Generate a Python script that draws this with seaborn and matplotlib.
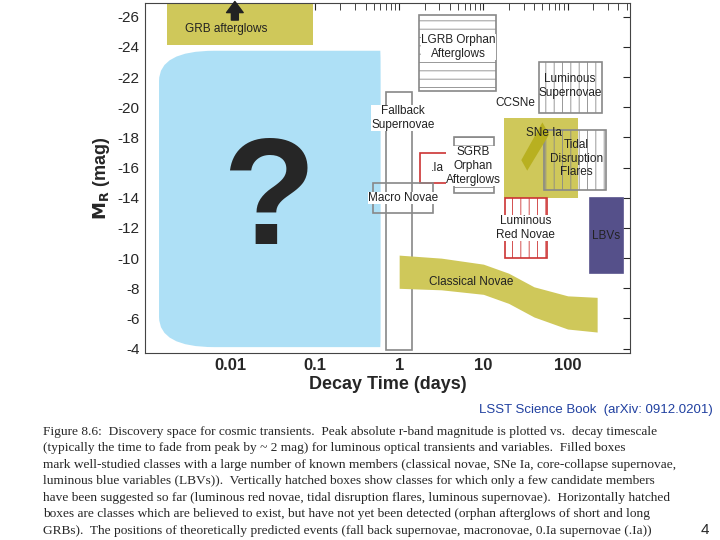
import matplotlib
matplotlib.use("Agg")
import matplotlib.pyplot as plt
import seaborn as sns
import numpy as np
from matplotlib.patches import Rectangle, FancyBboxPatch, Polygon

sns.set_style("white")
plt.rcParams['font.family'] = ['Liberation Sans', 'DejaVu Sans']
plt.rcParams['hatch.linewidth'] = 0.6
plt.rcParams['hatch.color'] = '#888888'

names = ["GRB afterglows", "LGRB Orphan\nAfterglows", "Fallback\nSupernovae", ".Ia",
         "SGRB\nOrphan\nAfterglows", "Macro Novae", "CCSNe", "Tidal\nDisruption\nFlares",
         "Luminous\nSupernovae", "Luminous\nRed Novae", "LBVs"]
lx0 = [-2.75, 0.24, -0.16, 0.25, 0.65, -0.31, 1.25, 1.72, 1.66, 1.26, 2.26]
lx1 = [-1.02, 1.15, 0.15, 0.64, 1.12, 0.40, 2.12, 2.45, 2.41, 1.75, 2.66]
m0 = [-26.9, -26.1, -21.0, -17.0, -18.0, -15.0, -19.3, -18.5, -23.0, -14.0, -14.0]
m1 = [-24.1, -21.1, -3.9, -15.0, -14.3, -13.0, -14.0, -14.5, -19.6, -10.0, -9.0]
nova_lt = [0.0, 0.5, 1.0, 1.3, 1.6, 2.0, 2.35]
nova_top = [-10.2, -10.0, -9.6, -9.0, -8.1, -7.5, -7.4]
nova_bot = [-8.0, -7.9, -7.6, -7.0, -6.1, -5.3, -5.1]

fig = plt.figure(figsize=(7.2, 5.4), dpi=100)
ax = fig.add_axes([0.201, 0.346, 0.674, 0.648])
ax.set_xscale('log')
ax.set_xlim(10**-3.02, 10**2.74)
ax.set_ylim(-3.7, -26.9)
yel = '#cfc85a'
ax.add_patch(FancyBboxPatch((10**-2.85, -23.75), 10**-0.22 - 10**-2.85, 19.65,
             boxstyle="round,pad=0,rounding_size=0.005", fc='#aee0f6', ec='none',
             mutation_aspect=400))
ax.text(10**-1.55, -13.5, "?", fontsize=110, fontweight='bold', ha='center', va='center')
for i, n in enumerate(names):
    x0, x1 = 10**lx0[i], 10**lx1[i]
    fc, ec, hatch = 'none', '#888888', None
    if n.startswith("GRB") or n == "CCSNe":
        fc, ec = yel, 'none'
    elif n == "LBVs":
        fc, ec = '#55508a', '#55508a'
    elif n in (".Ia", "Luminous\nRed Novae"):
        ec = '#cc3333'
    if n in ("Luminous\nRed Novae", "Tidal\nDisruption\nFlares", "Luminous\nSupernovae"):
        hatch = '||'
    if "Orphan" in n:
        hatch = '--'
    ax.add_patch(Rectangle((x0, m0[i]), x1 - x0, m1[i] - m0[i], fc=fc, ec=ec, hatch=hatch, lw=1.2))
ax.annotate("", xy=(10**-1.95, -27.2), xytext=(10**-1.95, -25.6),
            arrowprops=dict(arrowstyle='simple,head_width=1.2,head_length=0.8,tail_width=0.5',
                            color='#222222'), annotation_clip=False)
ax.fill_between(10**np.array(nova_lt), nova_top, nova_bot, color=yel, lw=0)
ax.add_patch(Polygon([(10**1.45, -16.5), (10**1.7, -19.0), (10**1.78, -18.2), (10**1.52, -15.8)],
                     fc='#b8b020', ec='none'))
labs = [("GRB afterglows", -2.05, -25.2), ("LGRB Orphan\nAfterglows", 0.7, -24.0),
        ("Fallback\nSupernovae", 0.05, -19.3), (".Ia", 0.45, -16.0),
        ("SGRB\nOrphan\nAfterglows", 0.88, -16.1), ("Macro Novae", 0.05, -14.0),
        ("CCSNe", 1.38, -20.3), ("SNe Ia", 1.72, -18.3), ("Tidal\nDisruption\nFlares", 2.1, -16.6),
        ("Luminous\nSupernovae", 2.03, -21.4), ("Luminous\nRed Novae", 1.5, -12.0),
        ("LBVs", 2.46, -11.5), ("Classical Novae", 0.85, -8.4)]
white = {"Fallback\nSupernovae", "SGRB\nOrphan\nAfterglows", "Macro Novae", "CCSNe",
         "Luminous\nRed Novae", "LGRB Orphan\nAfterglows"}
for t, x, y in labs:
    kw = dict(bbox=dict(fc='white', ec='none', pad=0.2)) if t in white else {}
    ax.text(10**x, y, t, fontsize=8.5, ha='center', va='center', color='#222222', **kw)
ax.set_xticks([0.01, 0.1, 1, 10, 100])
ax.set_xticklabels(["0.01", "0.1", "1", "10", "100"], fontsize=12, fontweight='bold')
ax.set_yticks(range(-26, -3, 2))
ax.set_yticklabels([str(v) for v in range(-26, -3, 2)], fontsize=11)
ax.tick_params(direction='in', length=5, which='both', top=True, right=True)
ax.set_xlabel("Decay Time (days)", fontsize=13, fontweight='bold', labelpad=2)
ax.set_ylabel(r"$\mathbf{M_R}$ (mag)", fontsize=13, fontweight='bold')
for s in ax.spines.values():
    s.set_color('#444444')

fig.text(0.99, 0.235, "LSST Science Book  (arXiv: 0912.0201)", ha='right', fontsize=9.5, color='#2040a0')
cap = ["Figure 8.6:  Discovery space for cosmic transients.  Peak absolute r-band magnitude is plotted vs.  decay timescale",
       "(typically the time to fade from peak by ~ 2 mag) for luminous optical transients and variables.  Filled boxes",
       "mark well-studied classes with a large number of known members (classical novae, SNe Ia, core-collapse supernovae,",
       "luminous blue variables (LBVs)).  Vertically hatched boxes show classes for which only a few candidate members",
       "have been suggested so far (luminous red novae, tidal disruption flares, luminous supernovae).  Horizontally hatched",
       "boxes are classes which are believed to exist, but have not yet been detected (orphan afterglows of short and long",
       "GRBs).  The positions of theoretically predicted events (fall back supernovae, macronovae, 0.Ia supernovae (.Ia))"]
for i, line in enumerate(cap):
    fig.text(0.06, 0.2 - i * 0.0305, line, fontsize=9.6, family='Liberation Serif', va='center')
fig.text(0.985, 0.012, "4", fontsize=11, ha='right')
fig.savefig("out.png", dpi=100)
